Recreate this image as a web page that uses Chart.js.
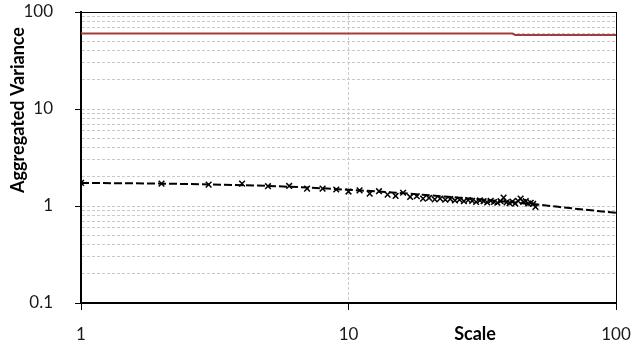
<!DOCTYPE html>
<html>
<head>
<meta charset="utf-8">
<script src="https://cdn.jsdelivr.net/npm/chart.js@4"></script>
<style>
  html, body { margin: 0; padding: 0; background: #fff; }
  #wrap { width: 642px; height: 347px; }
</style>
</head>
<body>
<div id="wrap"><canvas id="chart" width="642" height="347"></canvas></div>
<script>
// --- data ---
const scaleX = [1, 2, 3, 4, 5, 6, 7, 8, 9, 10, 11, 12, 13, 14, 15, 16, 17, 18, 19, 20,
  21, 22, 23, 24, 25, 26, 27, 28, 29, 30, 31, 32, 33, 34, 35, 36, 37, 38, 39, 40,
  41, 42, 43, 44, 45, 46, 47, 48, 49, 50];
const aggVariance = [1.73, 1.70, 1.66, 1.70, 1.60, 1.61, 1.51, 1.51, 1.48, 1.41,
  1.45, 1.34, 1.42, 1.31, 1.27, 1.37, 1.24, 1.26, 1.19, 1.21,
  1.17, 1.19, 1.16, 1.18, 1.14, 1.16, 1.12, 1.15, 1.13, 1.10,
  1.14, 1.12, 1.09, 1.13, 1.10, 1.08, 1.12, 1.22, 1.09, 1.07,
  1.11, 1.06, 1.13, 1.19, 1.10, 1.12, 1.06, 1.08, 1.05, 0.98];
const trendX = [1, 2, 3, 5, 7, 10, 15, 20, 30, 40, 50, 70, 100];
const trendY = [1.73, 1.70, 1.67, 1.61, 1.55, 1.47, 1.37, 1.29, 1.18, 1.10, 1.04, 0.94, 0.85];
const refX = [1, 41, 42, 100];
const refY = [60, 60, 58, 58];
const xTicks = [1, 10, 100];
const yDecades = [0.1, 1, 10];
const yTop = 100;

const toPoints = (xs, ys) => xs.map((x, i) => ({ x: x, y: ys[i] }));
const isMajor = v => Math.abs(Math.log10(v) - Math.round(Math.log10(v))) < 1e-9;

const gridGray = '#c9c9c9';

// draws the two axis titles where the original puts them
const axisTitles = {
  id: 'axisTitles',
  afterDraw(chart) {
    const ctx = chart.ctx;
    ctx.save();
    ctx.fillStyle = '#000';
    ctx.textAlign = 'center';
    ctx.textBaseline = 'middle';
    ctx.font = 'bold 18px Lato';
    ctx.fillText('Scale', 475, 334);
    ctx.translate(18, 110);
    ctx.rotate(-Math.PI / 2);
    ctx.fillText('Aggregated Variance', 0, 0);
    ctx.restore();
  }
};

const ctx = document.getElementById('chart').getContext('2d');
new Chart(ctx, {
  type: 'scatter',
  data: {
    datasets: [
      {
        label: 'Aggregated Variance',
        data: toPoints(scaleX, aggVariance),
        pointStyle: 'crossRot',
        pointRadius: 4,
        borderColor: '#000',
        borderWidth: 1.5,
        backgroundColor: '#000',
        order: 1
      },
      {
        label: 'Trend',
        data: toPoints(trendX, trendY),
        showLine: true,
        cubicInterpolationMode: 'monotone',
        borderColor: '#000',
        borderWidth: 2,
        borderDash: [8, 3],
        pointRadius: 0,
        order: 2
      },
      {
        label: 'Reference',
        data: toPoints(refX, refY),
        showLine: true,
        borderColor: '#a33c3c',
        borderWidth: 2,
        pointRadius: 0,
        order: 3
      }
    ]
  },
  options: {
    responsive: false,
    animation: false,
    layout: { padding: { top: 12, right: 26, left: 0, bottom: 0 } },
    plugins: {
      legend: { display: false },
      tooltip: { enabled: false }
    },
    scales: {
      x: {
        type: 'logarithmic',
        min: 1,
        max: 100,
        afterBuildTicks: s => { s.ticks = xTicks.map(v => ({ value: v })); },
        afterFit: s => { s.height = 44; s.paddingLeft = 0; s.paddingRight = 0; },
        ticks: {
          autoSkip: false,
          maxRotation: 0,
          padding: 14,
          color: '#1a1a1a',
          font: { family: 'Lato', size: 17 },
          callback: v => String(v)
        },
        grid: {
          color: c => c.tick && c.tick.value === 10 ? gridGray : (c.tick && c.tick.value === 100 ? '#000' : 'rgba(0,0,0,0)'),
          tickColor: '#000',
          tickLength: 7,
          lineWidth: 1
        },
        border: {
          color: '#000',
          width: 2,
          dash: c => c.tick && c.tick.value === 10 ? [3, 2] : []
        }
      },
      y: {
        type: 'logarithmic',
        min: 0.1,
        max: 100,
        afterBuildTicks: s => {
          const t = [];
          yDecades.forEach(d => {
            for (let m = 1; m < 10; m++) t.push({ value: m * d });
          });
          t.push({ value: yTop });
          s.ticks = t;
        },
        afterFit: s => { s.width = 81; s.paddingTop = 0; s.paddingBottom = 0; },
        ticks: {
          autoSkip: false,
          padding: 22,
          color: '#1a1a1a',
          font: { family: 'Lato', size: 17 },
          callback: v => isMajor(v) ? String(v) : ''
        },
        grid: {
          color: c => {
            if (!c.tick) return gridGray;
            if (c.tick.value === yTop) return '#000';
            if (c.index === 0) return 'rgba(0,0,0,0)';
            return gridGray;
          },
          tickColor: c => c.tick && isMajor(c.tick.value) ? '#000' : 'rgba(0,0,0,0)',
          tickLength: 6,
          lineWidth: 1
        },
        border: {
          color: '#000',
          width: 2,
          dash: c => c.tick && c.tick.value === yTop ? [] : [3, 2]
        }
      }
    }
  },
  plugins: [axisTitles]
});
</script>
</body>
</html>
